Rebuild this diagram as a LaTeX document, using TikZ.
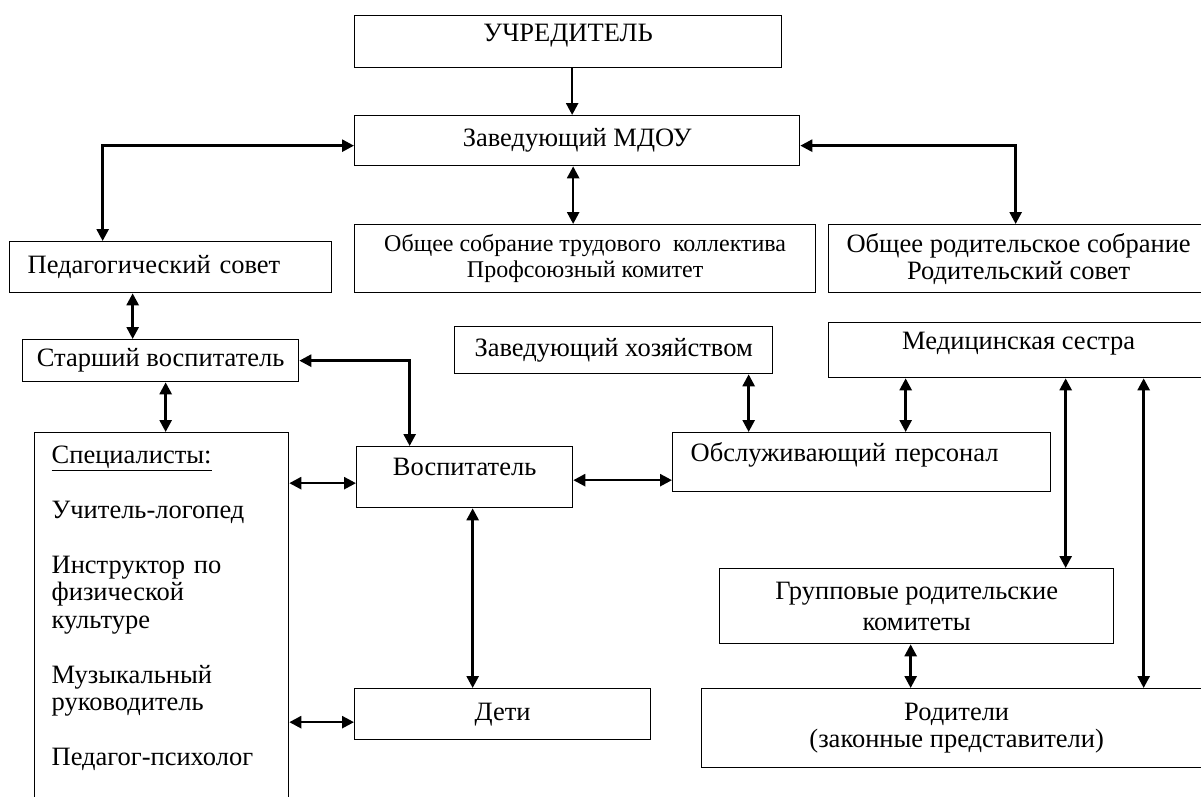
\documentclass[tikz,border=0pt]{standalone}
\usepackage{fontspec}
\setmainfont{Liberation Serif}
\usetikzlibrary{arrows.meta}

\begin{document}
\begin{tikzpicture}[%
    x=1pt, y=-1pt,
    >={Triangle[length=12pt,width=12pt]},
    box/.style={draw, line width=1.3pt, anchor=north west, inner sep=0pt,
      align=center, font=\fontsize{26.5}{27}\selectfont},
    link/.style={line width=2.6pt},
  ]
    \useasboundingbox (0,0) rectangle (1201,796);

    \node[box, minimum width=427pt, minimum height=52pt, text depth=17pt] (uchr) at (354,15) {УЧРЕДИТЕЛЬ};
    \node[box, minimum width=445pt, minimum height=50pt] (zav) at (354,115) {Заведующий МДОУ};
    \node[box, minimum width=461pt, minimum height=68pt, font=\fontsize{24}{26}\selectfont] (sobr) at (354,224)
      {Общее собрание трудового\ \ коллектива\\Профсоюзный комитет};
    \node[box, minimum width=380pt, minimum height=68pt] (rodsobr) at (828,224)
      {Общее родительское собрание\\Родительский совет};
    \node[box, minimum height=51pt, inner xsep=18pt, text width=286pt, align=left] (pedsov) at (9,241) {Педагогический совет};
    \node[box, minimum width=276pt, minimum height=42pt] (starsh) at (22,339) {Старший воспитатель};
    \node[box, minimum width=318pt, minimum height=47pt] (zavhoz) at (454,326) {Заведующий хозяйством};
    \node[box, minimum width=380pt, minimum height=55pt, text depth=19pt] (medsis) at (828,322) {Медицинская сестра};
    \node[box, inner xsep=17pt, inner ysep=13pt, text width=220pt, align=left, text depth=370pt,
      font=\fontsize{26.5}{27.5}\selectfont] (spec) at (34,432)
      {\underline{Специалисты:}\\[27.5pt]
       Учитель-логопед\\[27.5pt]
       Инструктор по\\физической\\культуре\\[27.5pt]
       Музыкальный\\руководитель\\[27.5pt]
       Педагог-психолог};
    \node[box, minimum width=216pt, minimum height=61pt, text depth=21pt] (vosp) at (356,446) {Воспитатель};
    \node[box, minimum height=59pt, inner xsep=18pt, text width=342pt, align=left, text depth=21pt] (obsl) at (672,432)
      {Обслуживающий персонал};
    \node[box, minimum width=394pt, minimum height=75pt, font=\fontsize{26.5}{31}\selectfont] (gruppa) at (719,568)
      {Групповые родительские\\комитеты};
    \node[box, minimum width=296pt, minimum height=51pt] (deti) at (354,688) {Дети};
    \node[box, minimum width=510pt, minimum height=79pt] (rodit) at (701,688)
      {Родители\\(законные представители)};

    \draw[link,->] ([xshift=4pt]uchr.south) -- ([xshift=4pt]uchr.south |- zav.north);
    \draw[link,<->] ([xshift=-4pt]zav.south) -- ([xshift=-4pt]zav.south |- sobr.north);
    \draw[link,<->] ([yshift=-5pt]zav.west) -| ([xshift=-68pt]pedsov.north);
    \draw[link,<->] ([yshift=-5pt]zav.east) -| ([xshift=-3pt]rodsobr.north);
    \draw[link,<->] ([xshift=-38pt]pedsov.south) -- ([xshift=-38pt]pedsov.south |- starsh.north);
    \draw[link,<->] (starsh.east) -| ([xshift=-55pt]vosp.north);
    \draw[link,<->] ([xshift=5pt]starsh.south) -- ([xshift=5pt]starsh.south |- spec.north);
    \draw[link,<->] ([yshift=-6pt]vosp.west -| spec.east) -- ([yshift=-6pt]vosp.west);
    \draw[link,<->] ([yshift=-3pt]vosp.east) -- ([yshift=-3pt]vosp.east -| obsl.west);
    \draw[link,<->] ([xshift=8pt]vosp.south) -- ([xshift=8pt]vosp.south |- deti.north);
    \draw[link,<->] ([yshift=-8pt]deti.west -| spec.east) -- ([yshift=-8pt]deti.west);
    \draw[link,<->] ([xshift=135pt]zavhoz.south) -- ([xshift=135pt]zavhoz.south |- obsl.north);
    \draw[link,<->] ([xshift=-113pt]medsis.south) -- ([xshift=-113pt]medsis.south |- obsl.north);
    \draw[link,<->] ([xshift=47pt]medsis.south) -- ([xshift=47pt]medsis.south |- gruppa.north);
    \draw[link,<->] ([xshift=125pt]medsis.south) -- ([xshift=125pt]medsis.south |- rodit.north);
    \draw[link,<->] ([xshift=-6pt]gruppa.south) -- ([xshift=-6pt]gruppa.south |- rodit.north);
  \end{tikzpicture}
\end{document}
